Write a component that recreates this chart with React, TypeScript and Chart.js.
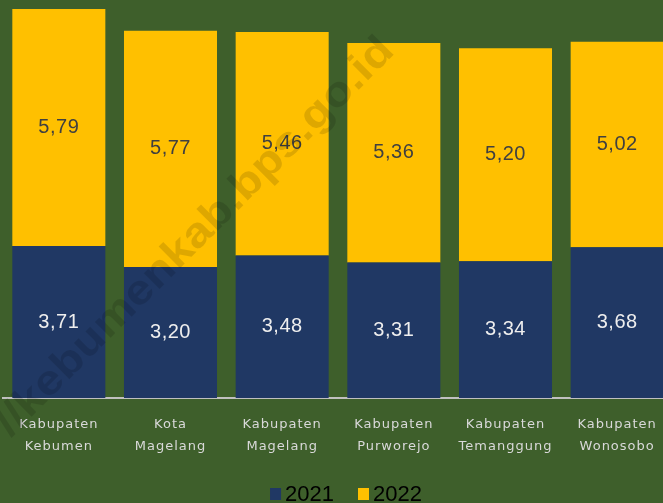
import React, { useEffect, useRef } from "react";
import { Chart, registerables } from "chart.js";

Chart.register(...registerables);

const categories: string[][] = [
  ["Kabupaten", "Kebumen"],
  ["Kota", "Magelang"],
  ["Kabupaten", "Magelang"],
  ["Kabupaten", "Purworejo"],
  ["Kabupaten", "Temanggung"],
  ["Kabupaten", "Wonosobo"],
];
const values2021 = [3.71, 3.2, 3.48, 3.31, 3.34, 3.68];
const values2022 = [5.79, 5.77, 5.46, 5.36, 5.2, 5.02];
const seriesNames = ["2021", "2022"];
const watermarkText = "//kebumenkab.bps.go.id";

const NAVY = "#203864";
const GOLD = "#ffc000";
const BG = "#3e5f2b";

const fmt = (v: number) => v.toFixed(2).replace(".", ",");

const spacingPlugin = {
  id: "spacing",
  beforeDraw(chart: any) {
    chart.ctx.letterSpacing = "1px";
  },
  afterDraw(chart: any) {
    chart.ctx.letterSpacing = "0px";
  },
};

const labelPlugin = {
  id: "barLabels",
  afterDatasetsDraw(chart: any) {
    const ctx = chart.ctx;
    ctx.save();
    ctx.letterSpacing = "0.5px";
    ctx.font = "20px 'Liberation Sans', Arial, sans-serif";
    ctx.textAlign = "center";
    ctx.textBaseline = "middle";
    chart.data.datasets.forEach((ds: any, di: number) => {
      const meta = chart.getDatasetMeta(di);
      meta.data.forEach((el: any, i: number) => {
        const y = (el.y + el.base) / 2;
        ctx.fillStyle = di === 0 ? "#eeeeee" : "#404040";
        ctx.fillText(fmt(ds.data[i]), el.x, y);
      });
    });
    ctx.restore();
  },
};

const overlayPlugin = {
  id: "overlay",
  afterDraw(chart: any) {
    const ctx = chart.ctx;
    const area = chart.chartArea;
    // legend
    ctx.save();
    ctx.letterSpacing = "0px";
    ctx.font = "22px 'Liberation Sans', Arial, sans-serif";
    ctx.textBaseline = "middle";
    ctx.textAlign = "left";
    const box = 11;
    const gap = 4;
    const itemGap = 24;
    const ds = chart.data.datasets;
    const widths = ds.map((d: any) => ctx.measureText(d.label).width);
    let total = 0;
    widths.forEach((w: number, i: number) => {
      total += box + gap + w + (i < widths.length - 1 ? itemGap : 0);
    });
    let x = (area.left + area.right) / 2 + 8 - total / 2;
    const cy = 494;
    ds.forEach((d: any, i: number) => {
      ctx.fillStyle = d.backgroundColor;
      ctx.fillRect(x, cy - 6, box, 12);
      ctx.fillStyle = "#000000";
      ctx.fillText(d.label, x + box + gap, cy + 1);
      x += box + gap + widths[i] + itemGap;
    });
    ctx.restore();

    // watermark
    ctx.save();
    ctx.letterSpacing = "0px";
    ctx.translate(195, 237);
    ctx.rotate((-45 * Math.PI) / 180);
    ctx.font = "bold 42px 'Liberation Sans', Arial, sans-serif";
    const w = ctx.measureText(watermarkText).width;
    ctx.scale(545 / w, 1);
    ctx.textAlign = "center";
    ctx.textBaseline = "middle";
    ctx.fillStyle = "rgba(0,0,0,0.13)";
    ctx.fillText(watermarkText, 0, 0);
    ctx.restore();
  },
};

export default function App() {
  const ref = useRef<HTMLCanvasElement | null>(null);

  useEffect(() => {
    document.body.style.margin = "0";
    document.body.style.overflow = "hidden";
    const canvas = ref.current!;
    const chart = new Chart(canvas, {
      type: "bar",
      data: {
        labels: categories,
        datasets: [
          {
            label: seriesNames[0],
            data: values2021,
            backgroundColor: NAVY,
            categoryPercentage: 1,
            barPercentage: 0.833,
          },
          {
            label: seriesNames[1],
            data: values2022,
            backgroundColor: GOLD,
            categoryPercentage: 1,
            barPercentage: 0.833,
          },
        ],
      },
      options: {
        responsive: false,
        animation: false,
        devicePixelRatio: 1,
        layout: { padding: { left: 3, right: 3, top: 0, bottom: 29 } },
        plugins: {
          legend: { display: false },
          tooltip: { enabled: false },
        },
        scales: {
          x: {
            stacked: true,
            grid: { display: false, drawTicks: false },
            border: { display: true, color: "#c0c0c0", width: 2 },
            ticks: {
              color: "#d9d9d9",
              padding: 16,
              maxRotation: 0,
              autoSkip: false,
              font: { family: "'DejaVu Sans', sans-serif", size: 13, lineHeight: "22px" },
            },
          },
          y: {
            stacked: true,
            display: false,
            min: 0,
            max: 9.72,
          },
        },
      },
      plugins: [spacingPlugin, labelPlugin, overlayPlugin],
    });
    return () => chart.destroy();
  }, []);

  return (
    <div
      style={{
        position: "fixed",
        left: 0,
        top: 0,
        width: 663,
        height: 503,
        overflow: "hidden",
        background: BG,
      }}
    >
      <canvas
        ref={ref}
        width={676}
        height={503}
        style={{ display: "block", width: 676, height: 503 }}
      />
    </div>
  );
}
